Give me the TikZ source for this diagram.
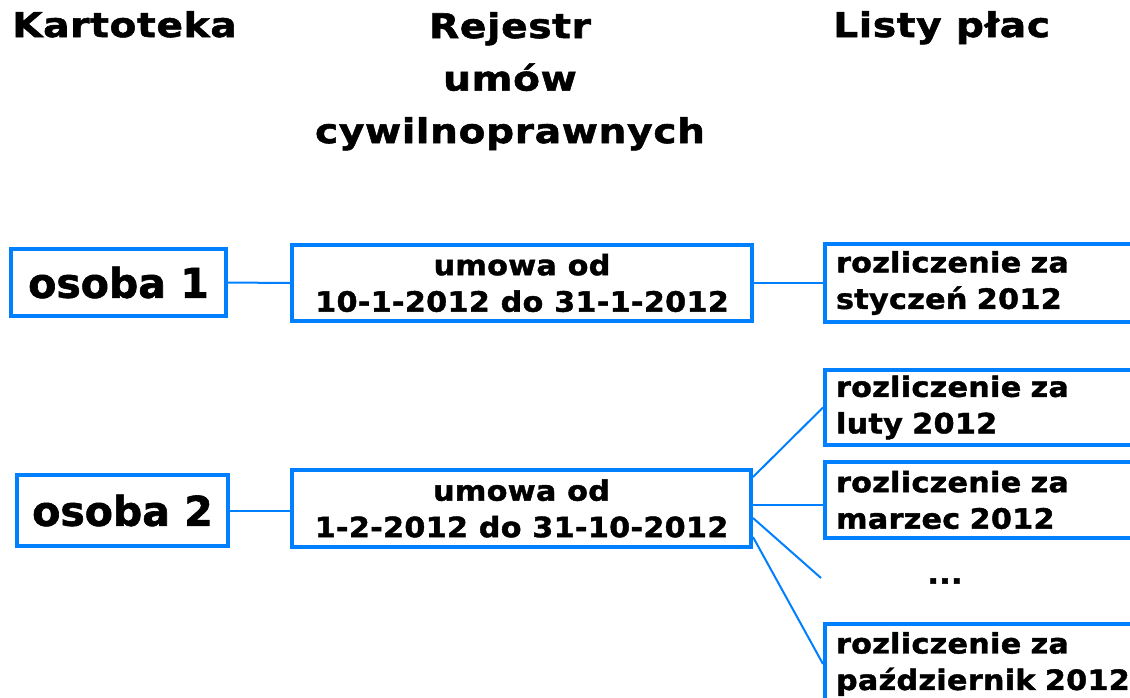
\documentclass[tikz,border=0pt]{standalone}
\usepackage{fontspec}
\setmainfont{DejaVu Sans}
\newfontfamily\hdfont{DejaVu Sans}[FakeStretch=1.15, FakeBold=1.6, LetterSpace=2]
\newfontfamily\bigfont{DejaVu Sans}[FakeBold=1.5]
\newfontfamily\bxfont{DejaVu Sans}[FakeStretch=1.08, FakeBold=1.5, LetterSpace=1]
\definecolor{lineblue}{RGB}{0,128,255}
\begin{document}
\begin{tikzpicture}[x=1pt,y=-1pt,
  box/.style={draw=lineblue, line width=4pt, rectangle, inner sep=0pt},
  conn/.style={draw=lineblue, line width=2pt},
  hd/.style={inner sep=0pt, font={\hdfont\bfseries\fontsize{34pt}{52.5pt}\selectfont}},
  big/.style={font={\bigfont\bfseries\fontsize{41pt}{48pt}\selectfont}},
  bx/.style={font={\bxfont\bfseries\fontsize{28pt}{36.5pt}\selectfont}},
  listbox/.style={box, bx, anchor=west, minimum width=322pt, text width=300pt, inner xsep=10pt, align=left}
]
\clip (0,0) rectangle (1130,697);
\fill[white] (0,0) rectangle (1130,697);
% headers
\node[hd, anchor=base west] (hk) at (12,37) {Kartoteka};
\node[hd, anchor=north, align=center] (hr) at (510,12) {Rejestr\\umów\\cywilnoprawnych};
\node[hd, anchor=base west] (hl) at (833,37) {Listy płac};
% left column
\node[box, big, minimum width=215pt, minimum height=67pt] (o1) at (118.5,282.5) {osoba 1};
\node[box, big, minimum width=211pt, minimum height=71pt] (o2) at (122.5,510.5) {osoba 2};
% middle column
\node[box, bx, minimum width=460pt, minimum height=76pt, align=center] (r1) at (522,283) {umowa od\\10-1-2012 do 31-1-2012};
\node[box, bx, minimum width=459pt, minimum height=77pt, align=center] (r2) at (521.5,508.5) {umowa od\\1-2-2012 do 31-10-2012};
% right column
\node[listbox, minimum height=78pt] (l1) at (823,283) {rozliczenie za\\styczeń 2012};
\node[listbox, minimum height=75pt] (l2) at (823,407.5) {rozliczenie za\\luty 2012};
\node[listbox, minimum height=76pt] (l3) at (823,500) {rozliczenie za\\marzec 2012};
\node[listbox, minimum height=80pt] (l4) at (823,664) {rozliczenie za\\październik 2012};
\node[bx, inner sep=0pt] (dots) at (945,581) {...};
\coordinate (dend) at (821,578);
% connectors
\draw[conn] (o1.east) -- (r1.west);
\draw[conn] (r1.east) -- (l1.west);
\draw[conn] (o2.east) -- (o2.east -| r2.west);
\draw[conn] ([yshift=31.5pt]r2.east) -- (l2.west);
\draw[conn] ([yshift=3.5pt]r2.east) -- ([yshift=-5pt]l3.west);
\draw[conn] ([yshift=-9.5pt]r2.east) -- (dend);
\draw[conn] ([yshift=-28.5pt]r2.east) -- (l4.west);
\end{tikzpicture}
\end{document}
